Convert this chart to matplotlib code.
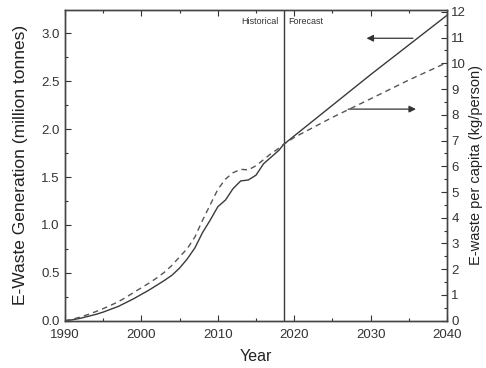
import matplotlib
matplotlib.use("Agg")
import matplotlib.pyplot as plt
from matplotlib.ticker import MultipleLocator

plt.rcParams['font.family'] = ['Liberation Sans', 'DejaVu Sans']

# Data
years = [1990, 1991, 1992, 1993, 1994, 1995, 1996, 1997, 1998, 1999,
         2000, 2001, 2002, 2003, 2004, 2005, 2006, 2007, 2008, 2009,
         2010, 2011, 2012, 2013, 2014, 2015, 2016, 2017, 2018, 2018.6,
         2020, 2025, 2030, 2035, 2040]
generation = [0.0, 0.01, 0.025, 0.045, 0.065, 0.09, 0.12, 0.15, 0.19, 0.23,
              0.275, 0.32, 0.37, 0.42, 0.475, 0.55, 0.645, 0.76, 0.92, 1.05,
              1.19, 1.26, 1.38, 1.46, 1.47, 1.52, 1.64, 1.71, 1.78, 1.84,
              1.93, 2.25, 2.57, 2.88, 3.19]
per_capita = [0.0, 0.06, 0.14, 0.24, 0.35, 0.47, 0.6, 0.74, 0.91, 1.1,
              1.28, 1.46, 1.66, 1.88, 2.15, 2.48, 2.8, 3.25, 3.9, 4.5,
              5.1, 5.5, 5.75, 5.88, 5.86, 6.02, 6.26, 6.5, 6.7, 6.85,
              7.12, 7.9, 8.62, 9.35, 10.03]
split_year = 2018.6

fig = plt.figure(figsize=(4.86, 3.68), dpi=100)
ax = fig.add_axes([0.1337, 0.1285, 0.7861, 0.8443])
ax2 = ax.twinx()

line_col = '#3a3a3a'
ax.plot(years, generation, color=line_col, lw=1.0)
ax2.plot(years, per_capita, color='#555555', lw=1.0, dashes=(4, 3))
ax.axvline(split_year, color=line_col, lw=1.0)

ax.set_xlim(1990, 2040)
ax.set_ylim(0, 3.245)
ax2.set_ylim(0, 12.07)

ax.xaxis.set_major_locator(MultipleLocator(10))
ax.xaxis.set_minor_locator(MultipleLocator(5))
ax.yaxis.set_major_locator(MultipleLocator(0.5))
ax.yaxis.set_minor_locator(MultipleLocator(0.25))
ax2.yaxis.set_major_locator(MultipleLocator(1))
ax2.yaxis.set_minor_locator(MultipleLocator(0.5))

ax.tick_params(axis='both', which='both', direction='in', labelsize=9.5, colors='#333333')
ax.tick_params(axis='x', which='both', top=True)
ax.tick_params(which='major', length=4, width=0.8)
ax.tick_params(which='minor', length=2, width=0.8)
ax.tick_params(axis='x', pad=6)
ax.tick_params(axis='y', pad=4)
ax2.tick_params(axis='y', which='both', direction='in', labelsize=9.5, colors='#333333', pad=3)
ax2.tick_params(which='major', length=4, width=0.8)
ax2.tick_params(which='minor', length=2, width=0.8)

ax.yaxis.set_major_formatter(matplotlib.ticker.FormatStrFormatter('%.1f'))

for a in (ax, ax2):
    for s in a.spines.values():
        s.set_color('#444444')
        s.set_linewidth(1.0)

ax.set_xlabel('Year', fontsize=11.5, color='#222222', labelpad=6)
ax.set_ylabel('E-Waste Generation (million tonnes)', fontsize=12.5, color='#222222', labelpad=9)
ax2.set_ylabel('E-waste per capita (kg/person)', fontsize=10.5, color='#222222', labelpad=2)

ax.text(split_year - 0.6, 3.12, 'Historical', fontsize=6.5, ha='right', va='center', color='#333333')
ax.text(split_year + 0.6, 3.12, 'Forecast', fontsize=6.5, ha='left', va='center', color='#333333')

arrow_kw = dict(arrowstyle='-|>', color='#333333', lw=0.9, mutation_scale=10)
ax.annotate('', xy=(2029.1, 2.95), xytext=(2035.9, 2.95), arrowprops=arrow_kw)
ax.annotate('', xy=(2036.3, 2.21), xytext=(2026.7, 2.21), arrowprops=arrow_kw)

fig.savefig('out.png', dpi=100)
